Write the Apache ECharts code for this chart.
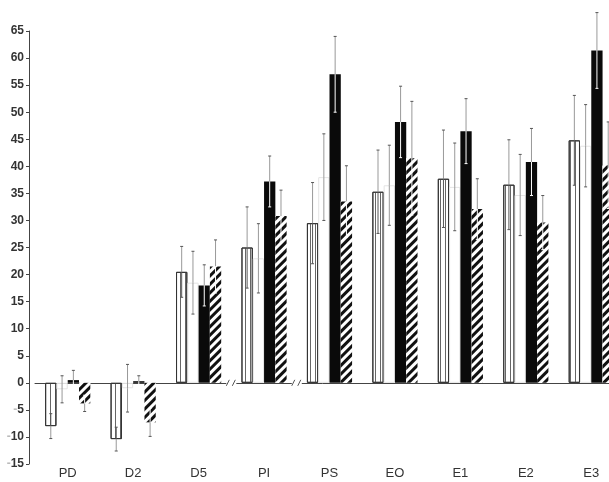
<!DOCTYPE html>
<html>
<head>
<meta charset="utf-8">
<script src="https://cdn.jsdelivr.net/npm/echarts@6/dist/echarts.min.js"></script>
<style>
html,body{margin:0;padding:0;background:#fff;}
#chart{width:609px;height:482px;}
</style>
</head>
<body>
<div id="chart"></div>
<script>
// ---- data ----
const categories = ['PD', 'D2', 'D5', 'PI', 'PS', 'EO', 'E1', 'E2', 'E3'];
const striped   = [-8, -10.4, 20.5, 25, 29.5, 35.3, 37.7, 36.6, 44.8];
const stripedErr = [2.3, 2.2, 4.7, 7.5, 7.5, 7.7, 9, 8.3, 8.3];
const plain     = [-1.2, -1, 18.5, 23, 38, 36.5, 36.2, 34.7, 43.8];
const plainErr  = [2.5, 4.4, 5.8, 6.4, 8, 7.4, 8.1, 7.5, 7.6];
const solid     = [0.5, 0.3, 18, 37.2, 57, 48.2, 46.5, 40.8, 61.4];
const solidErr  = [1.8, 1, 3.8, 4.7, 7, 6.6, 6, 6.2, 7];
const hatched   = [-3.8, -7.3, 21.5, 30.8, 33.5, 41.5, 32.1, 29.6, 40.2];
const hatchedErr = [1.5, 2.6, 4.9, 4.8, 6.6, 10.5, 5.6, 5, 8];
const yMin = -15, yMax = 65, yStep = 5;
const breaksAfter = [2, 3]; // axis break marks after D5 and after PI

// ---- chart ----
const seriesValues = [striped, plain, solid, hatched];
const seriesErrs = [stripedErr, plainErr, solidErr, hatchedErr];
const N = seriesValues.length;
const GAP = 0.31;
const innerColors = ['#555', '#999', '#fff', '#fff'];

const errData = [];
seriesValues.forEach((arr, si) => arr.forEach((v, ci) => errData.push([ci, si, v, seriesErrs[si][ci]])));

const chart = echarts.init(document.getElementById('chart'), null, {renderer: 'canvas'});
const font = "'Liberation Sans', Arial, sans-serif";

const barStyles = [
  {color: '#fff', borderColor: '#333', borderWidth: 1,
   decal: {symbol: 'rect', symbolSize: 1, color: '#666', dashArrayX: [1, 4], dashArrayY: [1, 0]}},
  {color: '#fff', borderColor: '#e4e4e4', borderWidth: 1},
  {color: '#0a0a0a'},
  {color: '#fff',
   decal: {symbol: 'rect', symbolSize: 1, color: '#111', backgroundColor: '#fff', dashArrayX: [1, 0], dashArrayY: [2.2, 2.2], rotation: -Math.PI / 4}}
];

const barSeries = seriesValues.map((arr, si) => ({
  type: 'bar',
  name: 's' + si,
  data: arr,
  xAxisIndex: 0,
  barGap: '0%',
  barCategoryGap: (GAP * 100) + '%',
  itemStyle: barStyles[si],
  z: 2
}));

const option = {
  animation: false,
  backgroundColor: '#fff',
  grid: {left: 35, top: 31, width: 589, bottom: 18, containLabel: false, outerBoundsMode: 'none'},
  xAxis: [
    {type: 'category', data: categories, position: 'bottom',
     axisLine: {show: false, onZero: false}, axisTick: {show: false},
     axisLabel: {color: '#333', fontSize: 13, fontFamily: font, margin: 3}},
    {type: 'category', data: categories, position: 'top',
     axisLine: {show: true, onZero: true, lineStyle: {color: '#444', width: 1}},
     axisTick: {show: false}, axisLabel: {show: false}}
  ],
  yAxis: {
    type: 'value', min: yMin, max: yMax, interval: yStep, offset: 6,
    axisLine: {show: true, lineStyle: {color: '#444', width: 1}},
    axisTick: {show: true, length: 3, lineStyle: {color: '#444'}},
    splitLine: {show: false},
    axisLabel: {
      margin: 5,
      formatter: v => v < 0 ? '{m|-}{n|' + (-v) + '}' : '{n|' + v + '}',
      rich: {
        m: {color: '#bbb', fontSize: 12, fontFamily: font, fontWeight: 'bold'},
        n: {color: '#333', fontSize: 12, fontFamily: font, fontWeight: 'bold'}
      }
    }
  },
  series: barSeries.concat([
    {
      type: 'custom', name: 'errors', xAxisIndex: 0, z: 5, silent: true,
      encode: {x: 0, y: 2},
      data: errData,
      renderItem: (params, api) => {
        const cat = api.value(0), si = api.value(1), v = api.value(2), e = api.value(3);
        const band = api.size([1, 0])[0];
        const bw = band * (1 - GAP) / N;
        const cx = api.coord([cat, 0])[0] + (si - (N - 1) / 2) * bw;
        const yv = api.coord([cat, v])[1];
        const yHi = api.coord([cat, v + e])[1];
        const yLo = api.coord([cat, v - e])[1];
        const outerEnd = v >= 0 ? yHi : yLo;
        const innerEnd = v >= 0 ? yLo : yHi;
        const capCol = si >= 2 ? '#fff' : '#555';
        return {type: 'group', children: [
          {type: 'line', shape: {x1: cx, y1: yv, x2: cx, y2: outerEnd}, style: {stroke: '#999', lineWidth: 1}},
          {type: 'line', shape: {x1: cx - 1.5, y1: outerEnd, x2: cx + 1.5, y2: outerEnd}, style: {stroke: '#555', lineWidth: 1}},
          {type: 'line', shape: {x1: cx, y1: yv, x2: cx, y2: innerEnd}, style: {stroke: innerColors[si], lineWidth: 1}},
          {type: 'line', shape: {x1: cx - 1.5, y1: innerEnd, x2: cx + 1.5, y2: innerEnd}, style: {stroke: capCol, lineWidth: 1}}
        ]};
      }
    },
    {
      type: 'custom', name: 'breaks', xAxisIndex: 0, z: 6, silent: true,
      encode: {x: 0, y: 1},
      data: breaksAfter.map(i => [i, 0]),
      renderItem: (params, api) => {
        const i = api.value(0);
        const band = api.size([1, 0])[0];
        const p = api.coord([i, 0]);
        const x = p[0] + band / 2, y = p[1];
        return {type: 'group', children: [
          {type: 'rect', shape: {x: x - 5, y: y - 3, width: 10, height: 6}, style: {fill: '#fff'}},
          {type: 'line', shape: {x1: x - 5, y1: y + 3, x2: x - 2, y2: y - 3}, style: {stroke: '#555', lineWidth: 1}},
          {type: 'line', shape: {x1: x + 1, y1: y + 3, x2: x + 4, y2: y - 3}, style: {stroke: '#555', lineWidth: 1}}
        ]};
      }
    }
  ])
};
chart.setOption(option);
</script>
</body>
</html>
